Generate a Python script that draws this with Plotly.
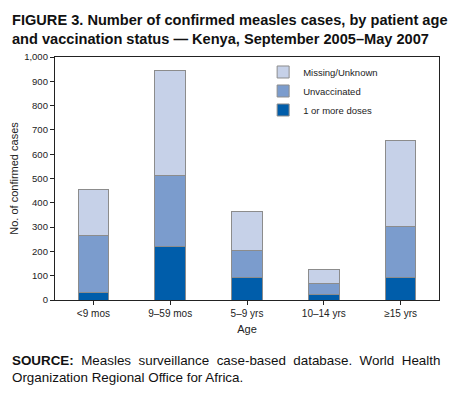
import plotly.graph_objects as go

categories = ["<9 mos", "9–59 mos", "5–9 yrs", "10–14 yrs", "≥15 yrs"]
doses = [32, 220, 94, 21, 94]
unvaccinated = [233, 292, 111, 45, 209]
missing = [190, 433, 160, 59, 355]
y_ticks = [0, 100, 200, 300, 400, 500, 600, 700, 800, 900, 1000]
y_tick_labels = ["0", "100", "200", "300", "400", "500", "600", "700", "800", "900", "1,000"]

FONT = "Liberation Sans, Arial, sans-serif"
line = dict(color="#8c8c8c", width=1)

fig = go.Figure()
fig.add_trace(go.Bar(x=categories, y=doses, name="1 or more doses",
                     marker=dict(color="#005DAA", line=line)))
fig.add_trace(go.Bar(x=categories, y=unvaccinated, name="Unvaccinated",
                     marker=dict(color="#7B9CCD", line=line)))
fig.add_trace(go.Bar(x=categories, y=missing, name="Missing/Unknown",
                     marker=dict(color="#C6D1E8", line=line)))

# the page body adds an 8px offset, so the figure is 8px smaller than the window
fig.update_layout(
    width=449, height=386,
    barmode="stack", bargap=0.6,
    plot_bgcolor="white", paper_bgcolor="white",
    margin=dict(l=47, r=18, t=49, b=94, autoexpand=False),
    font=dict(family=FONT, size=9, color="#222"),
    showlegend=True,
    legend=dict(x=0.542, y=0.998, xanchor="left", yanchor="top",
                traceorder="reversed", font=dict(size=9.5, color="#222"),
                bgcolor="rgba(0,0,0,0)", itemwidth=30, tracegroupgap=0),
    xaxis=dict(showline=True, linecolor="#222", linewidth=1.3, mirror=True,
               ticks="outside", ticklen=4, tickcolor="#222", automargin=False,
               tickfont=dict(size=10, color="#222"),
               title=dict(text="Age", font=dict(size=11, color="#222"), standoff=7)),
    yaxis=dict(range=[0, 1000], tickvals=y_ticks, ticktext=y_tick_labels,
               showline=True, linecolor="#222", linewidth=1.3, mirror=True,
               ticks="outside", ticklen=4, tickcolor="#222", showgrid=False,
               zeroline=False, tickfont=dict(size=9.5, color="#222"), automargin=False,
               title=dict(text="No. of confirmed cases", font=dict(size=11, color="#222"), standoff=5)),
)

fig.add_annotation(text="<b>FIGURE 3. Number of confirmed measles cases, by patient age<br>and vaccination status — Kenya, September 2005–May 2007</b>",
                   xref="paper", yref="paper", x=-45/384, y=1 + 47/243, xanchor="left", yanchor="top",
                   showarrow=False, align="left", font=dict(size=14.6, color="#111", family=FONT))
sp = "&nbsp;"
source_line1 = ("<b>SOURCE:</b>" + sp + " Measles" + sp + " surveillance" + sp + " case-based" + sp +
                " database." + sp + " World" + sp + " Health")
fig.add_annotation(text=source_line1 + "<br>Organization Regional Office for Africa.",
                   xref="paper", yref="paper", x=-45/384, y=-51/243, xanchor="left", yanchor="top",
                   showarrow=False, align="left", font=dict(size=13.4, color="#111", family=FONT))

fig.write_html("out.html")
